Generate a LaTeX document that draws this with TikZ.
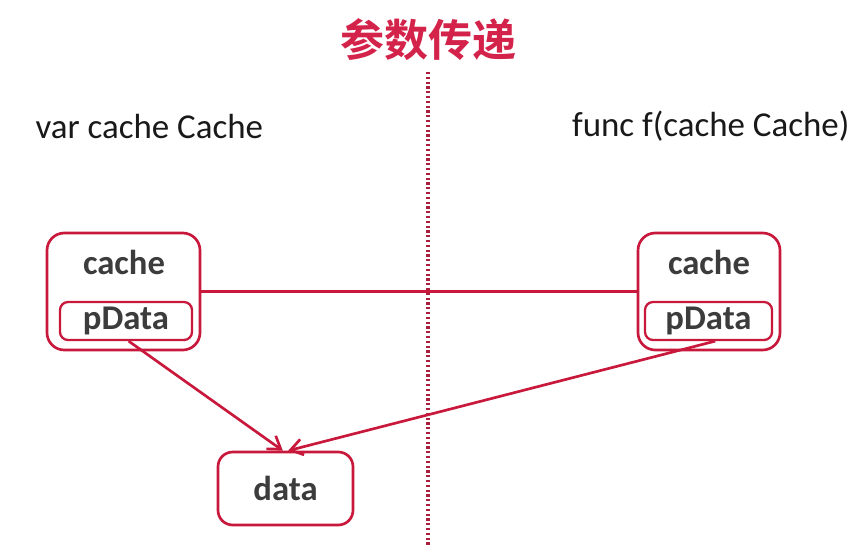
\documentclass[tikz,border=0pt]{standalone}
\usepackage{fontspec}
\setmainfont{Carlito}
\newfontfamily\cjkbold{Noto Sans CJK SC Bold}
\usetikzlibrary{arrows.meta}

\definecolor{boxred}{HTML}{C8193C}
\definecolor{titlered}{HTML}{D4234A}
\definecolor{dotred}{HTML}{A8203C}
\definecolor{labelgray}{HTML}{3C3C3C}

\tikzset{every picture/.style={line width=0.75pt}}
\tikzset{
  outerbox/.style={draw=boxred, line width=2pt, rounded corners=13pt, fill=white, minimum height=87.75pt},
  innerbox/.style={draw=boxred, line width=1.7pt, rounded corners=6pt, minimum height=28.5pt, inner sep=0pt,
    font=\fontsize{26}{30}\selectfont\bfseries, text=labelgray},
  boxlabel/.style={font=\fontsize{26}{30}\selectfont\bfseries, text=labelgray, inner sep=0pt},
  codetext/.style={font=\fontsize{26.2}{30}\selectfont, text=black!90, inner sep=0pt},
  link/.style={draw=boxred, line width=2pt},
  pointer/.style={link, -{Straight Barb[length=9pt, width=12pt, line width=2pt]}}
}

\begin{document}
\begin{tikzpicture}[x=0.75pt,y=0.75pt,yscale=-1,xscale=1]
\useasboundingbox (0,0) rectangle (857,557);

% Title
\node (title) at (428,40) {\cjkbold\fontsize{33}{38}\selectfont\color{titlered}参数传递};

% Divider
\coordinate (divtop) at (428,72);
\coordinate (divbot) at (428,545);
\draw [draw=dotred, line width=2.6pt, dash pattern=on 1.6pt off 2pt] (divtop) -- (divbot);

% Code Text
\node [codetext, anchor=west] (vardecl) at (35,126) {var cache Cache};
\node [codetext, anchor=east] (funcdecl) at (850,126) {func f(cache Cache)};

% Left cache
\node [outerbox, minimum width=114.75pt] (lcache) at (123.5,291.5) {};
\node [boxlabel] (lcachetxt) at (124,262) {cache};
\node [innerbox, minimum width=99pt] (lpdata) at (126,321) {pData};

% Right cache
\node [outerbox, minimum width=106.5pt] (rcache) at (709,291.5) {};
\node [boxlabel] (rcachetxt) at (709,262) {cache};
\node [innerbox, minimum width=95.25pt] (rpdata) at (708.5,321) {pData};

% Data
\node [outerbox, rounded corners=11pt, minimum width=101.25pt, minimum height=54.75pt,
  font=\fontsize{26}{30}\selectfont\bfseries, text=labelgray] (data) at (285.5,488.5) {data};

% Connectors
\draw [link] (lcache.east) -- (rcache.west);
\draw [pointer] ([xshift=2pt]lpdata.south) -- ([xshift=-2pt]data.north);
\draw [pointer] ([xshift=5pt]rpdata.south) -- ([xshift=2pt]data.north);

\end{tikzpicture}
\end{document}
